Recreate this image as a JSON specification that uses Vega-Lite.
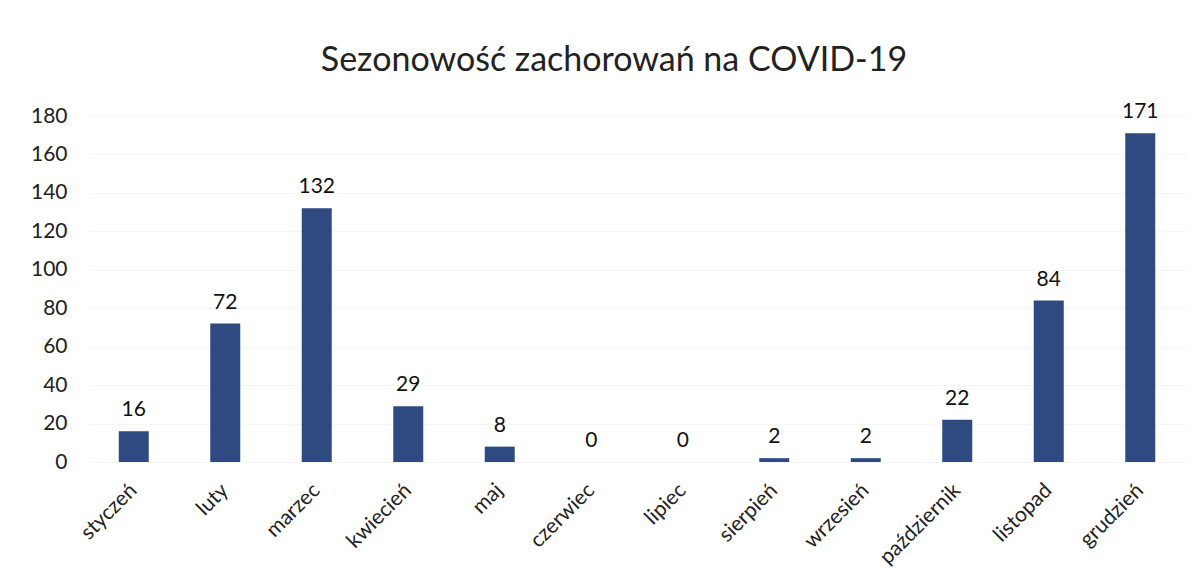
{
  "$schema": "https://vega.github.io/schema/vega-lite/v6.json",
  "width": 1098,
  "height": 346,
  "autosize": {"type": "none"},
  "padding": {"left": 88, "top": 116, "right": 18, "bottom": 122},
  "background": "white",
  "config": {"view": {"stroke": null}, "font": "Lato"},
  "title": {"text": "Sezonowość zachorowań na COVID-19", "fontSize": 34, "fontWeight": "normal", "color": "#222222", "offset": 23, "anchor": "middle", "dx": -23, "font": "Lato"},
  "data": {"values": [
    {"miesiac": "styczeń", "n": 16},
    {"miesiac": "luty", "n": 72},
    {"miesiac": "marzec", "n": 132},
    {"miesiac": "kwiecień", "n": 29},
    {"miesiac": "maj", "n": 8},
    {"miesiac": "czerwiec", "n": 0},
    {"miesiac": "lipiec", "n": 0},
    {"miesiac": "sierpień", "n": 2},
    {"miesiac": "wrzesień", "n": 2},
    {"miesiac": "październik", "n": 22},
    {"miesiac": "listopad", "n": 84},
    {"miesiac": "grudzień", "n": 171}
  ]},
  "encoding": {
    "x": {"field": "miesiac", "type": "nominal", "sort": null, "title": null,
      "scale": {"paddingInner": 0, "paddingOuter": 0},
      "axis": {"labelAngle": -45, "labelAlign": "right", "labelBaseline": "middle", "labelFontSize": 21, "labelColor": "#222222", "labelPadding": 25, "ticks": false, "domain": false, "grid": false}},
    "y": {"field": "n", "type": "quantitative", "title": null,
      "scale": {"domain": [0, 180], "nice": false},
      "axis": {"values": [0,20,40,60,80,100,120,140,160,180], "labelFontSize": 21, "labelColor": "#222222", "labelPadding": 21, "ticks": false, "domain": false, "grid": true, "gridColor": "#f6f6f6"}}
  },
  "layer": [
    {"mark": {"type": "bar", "size": 30, "color": "#2f4a80"}},
    {"mark": {"type": "text", "dy": -21, "fontSize": 21, "color": "#111111"}, "encoding": {"text": {"field": "n", "type": "quantitative"}}}
  ]
}
